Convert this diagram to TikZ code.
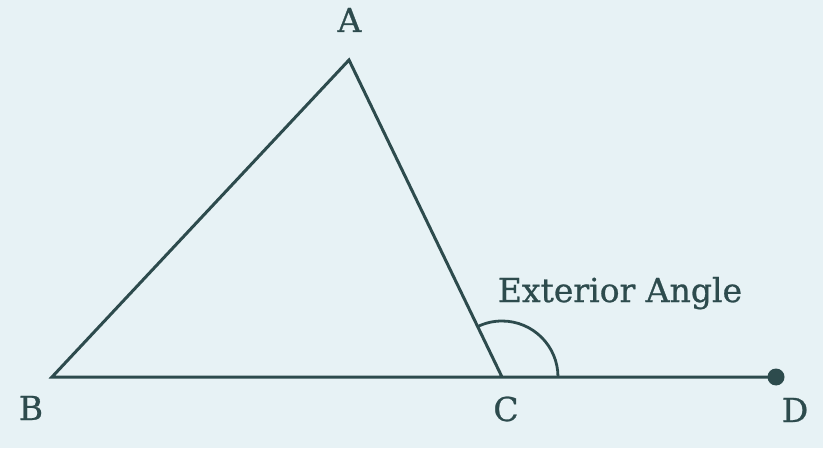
\documentclass[tikz,border=0pt]{standalone}
\usepackage{fontspec}
\setmainfont{DejaVu Serif}
\newfontfamily\lblfont[FakeBold=0.8]{DejaVu Serif}
\definecolor{ink}{HTML}{2D4B4D}
\definecolor{paper}{HTML}{E7F2F5}
\begin{document}
\begin{tikzpicture}[x=1pt,y=1pt,line join=miter,line cap=butt]
	\tikzset{every node/.style={font=\lblfont\fontsize{33}{36}\selectfont,text=ink,inner sep=0pt}}
	\fill[paper] (0,0) rectangle (823,448);
	\useasboundingbox (0,0) rectangle (823,448);
	\coordinate (A) at (349,388);
	\coordinate (B) at (52,71);
	\coordinate (C) at (502,71);
	\coordinate (D) at (776,71);
	\draw[ink,line width=3] (C)--(A)--(B)--(D);
	\fill[ink] (D) circle (8.5);
	\draw[ink,line width=2.8] ([shift={(0:56)}]C) arc[start angle=0,end angle=115.8,radius=56];
	\foreach \p/\x/\y in {A/349.5/416,B/31/28,C/506/27,D/795/26}
		\node[anchor=base] (lab\p) at (\x,\y) {\p};
	\node[anchor=base] (extlab) at (620,146) {Exterior Angle};
\end{tikzpicture}
\end{document}
